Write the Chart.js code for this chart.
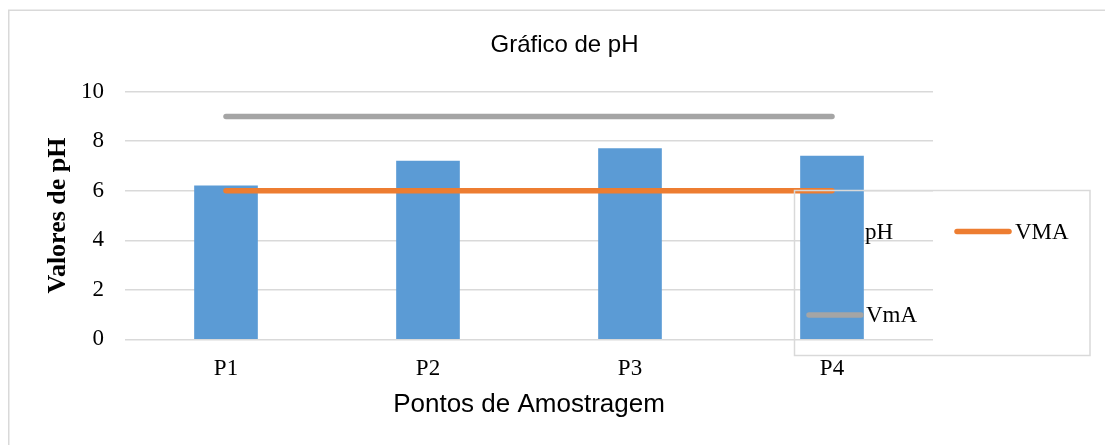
<!DOCTYPE html>
<html>
<head>
<meta charset="utf-8">
<script src="https://cdn.jsdelivr.net/npm/chart.js@4"></script>
<style>
  html, body { margin: 0; padding: 0; background: #fff; overflow: hidden; }
  #wrap { width: 1105px; height: 445px; position: relative; }
</style>
</head>
<body>
<div id="wrap"><canvas id="c" width="1105" height="445"></canvas></div>
<script>
const categories = ['P1', 'P2', 'P3', 'P4'];
const phValues = [6.2, 7.2, 7.7, 7.4];
const vmaValues = [6, 6, 6, 6];
const vmiValues = [9, 9, 9, 9];
const yTickValues = [0, 2, 4, 6, 8, 10];
const chartTitle = 'Gráfico de pH';
const xTitle = 'Pontos de Amostragem';
const yTitle = 'Valores de pH';

const BLUE = '#5b9bd5', ORANGE = '#ed7d31', GRAY = '#a5a5a5', GRID = '#d9d9d9';
const SERIF = '"Liberation Serif", "Times New Roman", serif';
const SANS = '"Liberation Sans", Arial, sans-serif';

const framePlugin = {
  id: 'frame',
  beforeDraw(chart) {
    const ctx = chart.ctx;
    ctx.save();
    ctx.strokeStyle = GRID;
    ctx.lineWidth = 1.5;
    ctx.beginPath();
    ctx.moveTo(8.75, 460);
    ctx.lineTo(8.75, 10.25);
    ctx.lineTo(1120, 10.25);
    ctx.stroke();
    // chart title
    ctx.fillStyle = '#000';
    ctx.font = '24px ' + SANS;
    ctx.textAlign = 'center';
    ctx.textBaseline = 'middle';
    ctx.fillText(chartTitle, 564.5, 45.5);
    ctx.restore();
  }
};

const legendPlugin = {
  id: 'customLegend',
  afterDraw(chart) {
    const ctx = chart.ctx;
    const ds = chart.data.datasets;
    const bar = ds.find(d => d.type === 'bar');
    const vma = ds.find(d => d.label === 'VMA');
    const vmi = ds.find(d => d.label === 'VmA');
    ctx.save();
    ctx.strokeStyle = GRID;
    ctx.lineWidth = 1.5;
    ctx.strokeRect(794.5, 190.5, 295.5, 165);
    ctx.font = '23px ' + SERIF;
    ctx.textBaseline = 'middle';
    ctx.textAlign = 'left';
    // pH (bar key)
    ctx.fillStyle = bar.backgroundColor;
    ctx.fillRect(849, 226, 13, 13);
    ctx.fillStyle = '#000';
    ctx.fillText(bar.label, 865, 233);
    // VMA
    ctx.lineCap = 'round';
    ctx.lineWidth = 5.5;
    ctx.strokeStyle = vma.borderColor;
    ctx.beginPath(); ctx.moveTo(957, 231.5); ctx.lineTo(1009, 231.5); ctx.stroke();
    ctx.fillText(vma.label, 1015, 233);
    // VmA
    ctx.strokeStyle = vmi.borderColor;
    ctx.beginPath(); ctx.moveTo(809, 315); ctx.lineTo(861, 315); ctx.stroke();
    ctx.fillText(vmi.label, 866, 316);
    ctx.restore();
  }
};

new Chart(document.getElementById('c'), {
  type: 'bar',
  data: {
    labels: categories,
    datasets: [
      { type: 'line', label: 'VMA', data: vmaValues, borderColor: ORANGE, backgroundColor: ORANGE,
        borderWidth: 5.5, borderCapStyle: 'round', pointRadius: 0, order: 1 },
      { type: 'line', label: 'VmA', data: vmiValues, borderColor: GRAY, backgroundColor: GRAY,
        borderWidth: 5.5, borderCapStyle: 'round', pointRadius: 0, order: 2 },
      { type: 'bar', label: 'pH', data: phValues, backgroundColor: BLUE, barThickness: 63, order: 3 }
    ]
  },
  options: {
    responsive: false,
    animation: false,
    devicePixelRatio: 1,
    layout: { padding: { left: 0, right: 172, top: 91.7, bottom: 0 } },
    plugins: {
      legend: { display: false },
      tooltip: { enabled: false },
      title: { display: false }
    },
    scales: {
      x: {
        offset: true,
        grid: { display: false, drawTicks: false },
        border: { display: false },
        ticks: { color: '#000', font: { family: SERIF, size: 23 }, padding: 16 },
        title: { display: true, text: xTitle, color: '#000',
                 font: { family: SANS, size: 26, lineHeight: 1.2 }, padding: { top: 0, bottom: 24.4 } },
        afterFit(s) { s.height = 105.7; }
      },
      y: {
        min: 0, max: 10,
        afterBuildTicks(s) { s.ticks = yTickValues.map(v => ({ value: v })); },
        grid: { color: GRID, lineWidth: 1.5, drawTicks: false },
        border: { display: false },
        ticks: { color: '#000', font: { family: SERIF, size: 23 }, padding: 21 },
        title: { display: true, text: yTitle, color: '#000',
                 font: { family: SERIF, size: 26, weight: 'bold', lineHeight: 1.2 }, padding: { top: 42.4, bottom: 0 } },
        afterFit(s) { s.width = 125; }
      }
    }
  },
  plugins: [framePlugin, legendPlugin]
});
</script>
</body>
</html>
